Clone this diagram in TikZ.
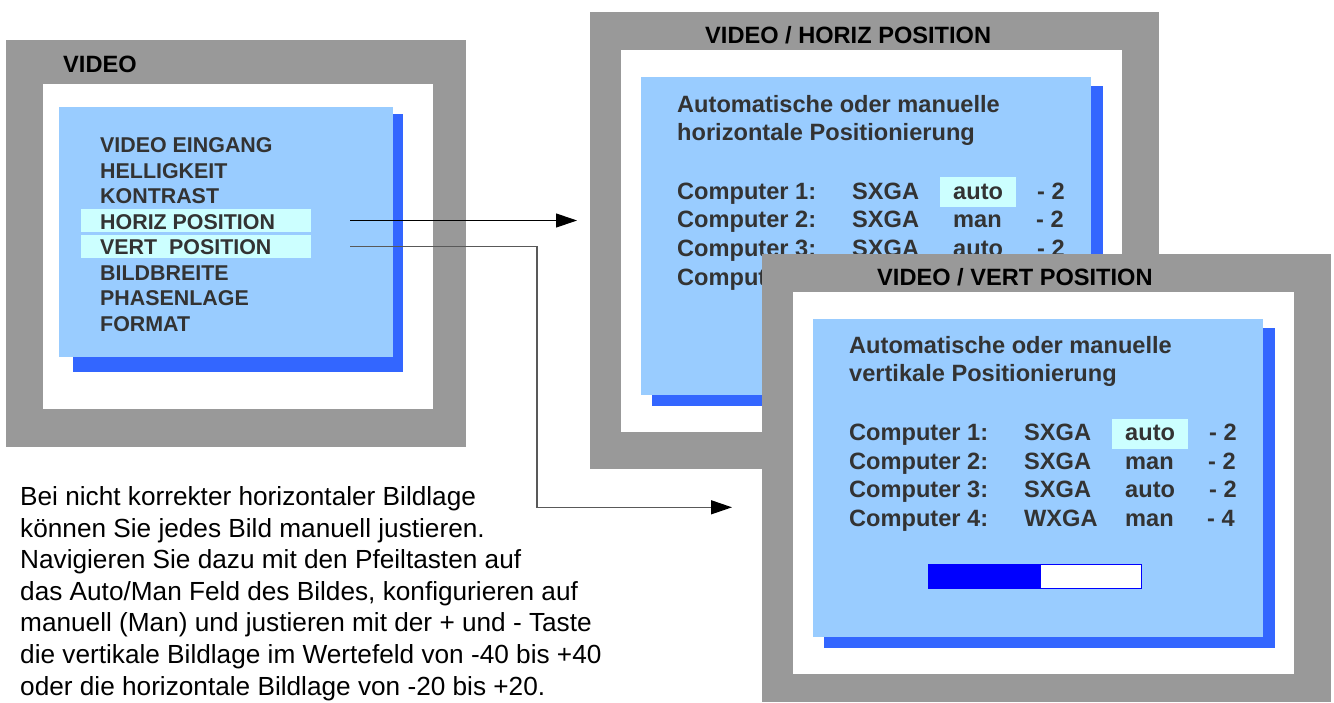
\documentclass[tikz,border=0pt]{standalone}
\usepackage{fontspec}
\setmainfont{Liberation Sans}
\usetikzlibrary{arrows.meta}
\definecolor{framegray}{HTML}{999999}
\definecolor{screenblue}{HTML}{99CCFF}
\definecolor{shadowblue}{HTML}{3366FF}
\definecolor{hilite}{HTML}{CCFFFF}
\definecolor{txtgray}{HTML}{333333}
\definecolor{barblue}{HTML}{0000FF}
\begin{document}
\begin{tikzpicture}[x=1pt,y=-1pt,
  hl/.style={fill=hilite, draw=none, inner sep=0pt, anchor=north west},
  menu/.style={anchor=base west, inner sep=0pt, font=\fontsize{21.4}{25}\selectfont\bfseries, text=txtgray},
  body/.style={anchor=base west, inner sep=0pt, font=\fontsize{23.6}{28}\selectfont\bfseries, text=txtgray},
  ttl/.style={anchor=base west, inner sep=0pt, font=\fontsize{23.6}{28}\selectfont\bfseries, text=black},
  para/.style={anchor=base west, inner sep=0pt, font=\fontsize{26.2}{31}\selectfont, text=black},
  conn/.style={-{Triangle[length=21pt,width=14pt,color=black]}}
]
\useasboundingbox (0,0) rectangle (1334,702);

% ---------------- left panel: VIDEO menu
\fill[framegray] (6,40) rectangle (466,447);
\fill[white] (43,84) rectangle (433,409);
\fill[shadowblue] (73,114) rectangle (403,372);
\fill[screenblue] (59,107) rectangle (393,357);
\node[hl, minimum width=230pt, minimum height=22.7pt] (hbox) at (81,209) {};
\node[hl, minimum width=230pt, minimum height=23pt] (vbox) at (81,235) {};
\node[ttl] (vtitle) at (63,72.7) {VIDEO};
\node[menu] (m1) at (100,152.7) {VIDEO EINGANG};
\node[menu] (m2) at (100,178.2) {HELLIGKEIT};
\node[menu] (m3) at (100,203.6) {KONTRAST};
\node[menu] (m4) at (100,229.1) {HORIZ POSITION};
\node[menu] (m5) at (100,254.6) {VERT\ \ POSITION};
\node[menu] (m6) at (100,280.0) {BILDBREITE};
\node[menu] (m7) at (100,305.5) {PHASENLAGE};
\node[menu] (m8) at (100,331.0) {FORMAT};

% ---------------- upper right panel: HORIZ POSITION
\begin{scope}[shift={(590,12)}]
\fill[framegray] (0,0) rectangle (569,457);
\fill[white] (31,38) rectangle (532,420);
\fill[shadowblue] (62,74) rectangle (513,394);
\fill[screenblue] (51,65) rectangle (501,383);
\node[hl, minimum width=76pt, minimum height=30pt] (uhl) at (350,165) {};
\node[ttl] (ut) at (115,31) {VIDEO / HORIZ POSITION};
\node[body] (uh1) at (87,100.7) {Automatische oder manuelle};
\node[body] (uh2) at (87,128.3) {horizontale Positionierung};
\node[body] (uc1) at (87,187) {Computer 1:};
\node[body] (uf1) at (262,187) {SXGA};
\node[body] (um1) at (363,187) {auto};
\node[body] (ud1) at (447,187) {- 2};
\node[body] (uc2) at (87,215.7) {Computer 2:};
\node[body] (uf2) at (262,215.7) {SXGA};
\node[body] (um2) at (363,215.7) {man};
\node[body] (ud2) at (446,215.7) {- 2};
\node[body] (uc3) at (87,244.3) {Computer 3:};
\node[body] (uf3) at (262,244.3) {SXGA};
\node[body] (um3) at (363,244.3) {auto};
\node[body] (ud3) at (447,244.3) {- 2};
\node[body] (uc4) at (87,273) {Computer 4:};
\end{scope}

% ---------------- lower right panel: VERT POSITION
\begin{scope}[shift={(762,254)}]
\fill[framegray] (0,0) rectangle (569,448);
\fill[white] (31,38) rectangle (532,420);
\fill[shadowblue] (62,74) rectangle (513,394);
\fill[screenblue] (51,65) rectangle (501,383);
\node[hl, minimum width=76pt, minimum height=30pt] (lhl) at (350,165) {};
\node[ttl] (lt) at (115,31) {VIDEO / VERT POSITION};
\node[body] (lh1) at (87,99.5) {Automatische oder manuelle};
\node[body] (lh2) at (87,127) {vertikale Positionierung};
\node[body] (lc1) at (87,186.5) {Computer 1:};
\node[body] (lf1) at (262,186.5) {SXGA};
\node[body] (lm1) at (363,186.5) {auto};
\node[body] (ld1) at (447,186.5) {- 2};
\node[body] (lc2) at (87,215.2) {Computer 2:};
\node[body] (lf2) at (262,215.2) {SXGA};
\node[body] (lm2) at (363,215.2) {man};
\node[body] (ld2) at (446,215.2) {- 2};
\node[body] (lc3) at (87,243.9) {Computer 3:};
\node[body] (lf3) at (262,243.9) {SXGA};
\node[body] (lm3) at (363,243.9) {auto};
\node[body] (ld3) at (447,243.9) {- 2};
\node[body] (lc4) at (87,272.5) {Computer 4:};
\node[body] (lf4) at (262,272.5) {WXGA};
\node[body] (lm4) at (363,272.5) {man};
\node[body] (ld4) at (445,272.5) {- 4};
\node[draw=barblue, line width=1.2pt, fill=white, inner sep=0pt, anchor=north west,
      minimum width=213pt, minimum height=24pt] (bar) at (166,309.5) {};
\fill[barblue] (bar.north west) rectangle ([xshift=113pt]bar.south west);
\end{scope}

% ---------------- explanatory text
\node[para] (p1) at (20,505.5) {Bei nicht korrekter horizontaler Bildlage};
\node[para] (p2) at (20,537.1) {können Sie jedes Bild manuell justieren.};
\node[para] (p3) at (20,568.7) {Navigieren Sie dazu mit den Pfeiltasten auf};
\node[para] (p4) at (20,600.3) {das Auto/Man Feld des Bildes, konfigurieren auf};
\node[para] (p5) at (20,631.9) {manuell (Man) und justieren mit der + und - Taste};
\node[para] (p6) at (20,663.5) {die vertikale Bildlage im Wertefeld von -40 bis +40};
\node[para] (p7) at (20,695.1) {oder die horizontale Bildlage von -20 bis +20.};

% ---------------- connectors
\coordinate (hs) at (350,220.5);
\coordinate (he) at (577,220.5);
\coordinate (vs) at (350,246.7);
\coordinate (vk) at (537,507.3);
\coordinate (ve) at (732,507.3);
\draw[conn, line width=1.1pt, black] (hs) -- (he);
\draw[conn, line width=1.4pt, black!65] (vs) -| (vk) -- (ve);
\end{tikzpicture}
\end{document}
